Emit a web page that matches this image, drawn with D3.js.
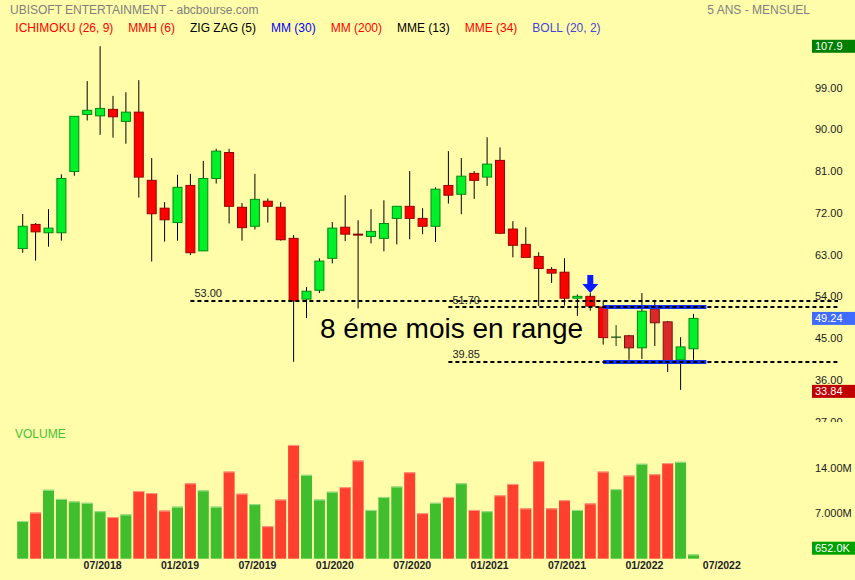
<!DOCTYPE html>
<html>
<head>
<meta charset="utf-8">
<script src="https://cdn.jsdelivr.net/npm/d3@7"></script>
<style>
  html, body { margin: 0; padding: 0; background: #fffdaa; }
  svg { display: block; font-family: "Liberation Sans", Arial, sans-serif; }
</style>
</head>
<body>
<svg id="chart" width="855" height="580"></svg>
<script>
// ---------------- DATA ----------------
const months = ["2018-01","2018-02","2018-03","2018-04","2018-05","2018-06","2018-07","2018-08","2018-09","2018-10","2018-11","2018-12",
  "2019-01","2019-02","2019-03","2019-04","2019-05","2019-06","2019-07","2019-08","2019-09","2019-10","2019-11","2019-12",
  "2020-01","2020-02","2020-03","2020-04","2020-05","2020-06","2020-07","2020-08","2020-09","2020-10","2020-11","2020-12",
  "2021-01","2021-02","2021-03","2021-04","2021-05","2021-06","2021-07","2021-08","2021-09","2021-10","2021-11","2021-12",
  "2022-01","2022-02","2022-03","2022-04","2022-05"];
const axisExtraMonths = ["2022-06","2022-07"];
const openV  = [64.3,69.5,67.7,67.7,80.9,93.2,92.9,94.3,91.7,93.7,79.0,73.0,69.9,77.9,63.8,79.4,85.0,73.2,69.1,74.5,73.2,66.5,53.4,55.3,62.2,68.9,67.5,66.9,66.5,70.8,73.4,70.8,69.1,77.9,76.0,80.5,79.7,83.3,68.5,65.2,62.6,59.8,59.2,53.6,54.0,51.7,45.1,45.5,42.9,51.3,48.5,40.3,42.7];
const highV  = [71.75,69.8,72.8,80.3,92.8,100.4,107.9,97.2,98.0,100.6,83.8,74.3,80.2,80.4,83.2,85.8,85.8,74.1,80.4,75.1,74.3,67.2,56.0,62.2,70.0,75.8,70.4,72.8,74.7,73.4,81.0,73.0,77.5,85.3,83.8,81.0,88.3,86.1,70.2,68.9,63.5,60.3,62.2,54.4,54.7,53.1,47.8,45.7,54.7,53.1,48.7,45.2,50.2];
const lowV   = [63.4,61.7,64.7,66.0,80.0,91.9,88.8,88.2,86.9,75.3,61.5,65.8,66.0,62.9,63.8,78.3,69.7,66.0,68.4,69.9,66.0,39.9,49.3,54.7,61.1,65.9,51.4,65.4,63.7,65.2,66.3,67.4,65.7,74.0,71.7,75.0,77.8,67.4,62.4,62.4,51.9,56.9,52.0,49.8,50.9,43.6,43.3,40.3,40.5,43.3,37.7,33.84,40.3];
const closeV = [69.1,67.9,68.7,79.4,92.8,94.1,94.5,92.7,93.7,79.7,71.8,70.5,77.5,63.4,79.4,85.3,73.4,68.8,74.9,73.4,66.2,53.0,55.1,61.6,68.7,67.4,67.3,68.0,69.7,73.4,70.8,69.1,77.1,75.8,79.9,79.0,82.5,67.6,65.0,62.4,60.0,59.0,53.6,54.0,51.9,45.1,45.2,42.9,50.8,48.3,40.1,43.1,49.24];
const volumeV = [5.8,7.1,10.6,9.2,8.8,8.6,7.3,6.4,6.8,10.4,10.1,7.4,8.0,11.6,10.5,8.0,13.4,10.0,8.4,5.0,9.1,17.5,12.9,9.1,10.3,11.0,15.1,7.5,9.5,11.1,13.3,7.0,8.6,9.5,11.6,7.5,7.3,9.75,11.5,7.75,15.0,7.75,9.0,7.5,8.5,13.4,10.7,12.8,14.6,13.0,14.7,14.9,0.652].map(v => v * 1e6);

const xTickMonths = ["2018-07","2019-01","2019-07","2020-01","2020-07","2021-01","2021-07","2022-01","2022-07"];
const priceTicks = [27,36,45,54,63,72,81,90,99];
const volumeTicks = [7e6,14e6];

const titleText = "UBISOFT ENTERTAINMENT - abcbourse.com";
const periodText = "5 ANS - MENSUEL";
const legendLabels = ["ICHIMOKU (26, 9)","MMH (6)","ZIG ZAG (5)","MM (30)","MM (200)","MME (13)","MME (34)","BOLL (20, 2)"];
const legendColors = ["#ff0000","#ff0000","#000000","#0000ff","#ff0000","#000000","#ff0000","#4545d8"];

const levelValues = [53.00, 51.70, 39.85];
const levelStartMonth = ["2019-02","2020-10","2020-10"];
const rangeStartMonth = "2021-10";
const rangeMonths = 8;
const signalMonth = "2021-09";
const annotationText = "8 éme mois en range";

// ---------------- LAYOUT ----------------
const svg = d3.select("#chart");
const W = 855, H = 580;
const BG = "#fffdaa";
const plotRight = 838;

svg.append("rect").attr("width", W).attr("height", H).attr("fill", BG);

const x = d3.scaleBand().domain(months.concat(axisExtraMonths)).range([16.25, 16.25 + 55 * 12.9]).padding(0);
const xc = m => x(m) + x.bandwidth() / 2;
const y = d3.scaleLinear().domain([27, 108]).range([421.6, 45.8]);
const yv = d3.scaleLinear().domain([0, 21e6]).range([558.7, 422.2]);

const data = months.map((m, i) => ({m, i, o: openV[i], h: highV[i], l: lowV[i], c: closeV[i], v: volumeV[i]}));
const rangeStartIdx = months.indexOf(rangeStartMonth);

// header
svg.append("text").attr("x", 10).attr("y", 13.5).attr("font-size", 12).attr("fill", "#808080").text(titleText);
svg.append("text").attr("x", 810).attr("y", 13.5).attr("font-size", 12).attr("fill", "#808080").attr("text-anchor", "end").text(periodText);

let lx = 15.3;
legendLabels.forEach((t, i) => {
  const el = svg.append("text").attr("x", lx).attr("y", 32).attr("font-size", 12).attr("fill", legendColors[i]).text(t);
  lx += el.node().getComputedTextLength() + 15;
});

// ---------------- VOLUME ----------------
svg.append("text").attr("x", 15).attr("y", 438).attr("font-size", 12).attr("fill", "#44c033").text("VOLUME");

const volG = svg.append("g");
data.forEach(d => {
  const up = d.c >= d.o;
  const cx = xc(d.m);
  volG.append("rect")
    .attr("x", cx - 5.5).attr("width", 11)
    .attr("y", yv(d.v)).attr("height", yv(0) - yv(d.v))
    .attr("fill", up ? "#41be2d" : "#ff402e");
  volG.append("rect")
    .attr("x", cx - 5.5).attr("width", 11)
    .attr("y", yv(d.v)).attr("height", 1)
    .attr("fill", up ? "#9ee08a" : "#ff9c80");
});

// ---------------- CANDLES ----------------
const cG = svg.append("g");
data.forEach(d => {
  const cx = xc(d.m);
  const up = d.c >= d.o;
  const inRange = d.i >= rangeStartIdx;
  const doji = Math.abs(d.c - d.o) < 0.3;
  cG.append("line")
    .attr("x1", cx).attr("x2", cx)
    .attr("y1", y(d.h)).attr("y2", y(d.l))
    .attr("stroke", doji && up ? "#0b3a14" : "#000").attr("stroke-width", 1);
  if (doji) {
    cG.append("line")
      .attr("x1", cx - 5).attr("x2", cx + 5)
      .attr("y1", y(d.c)).attr("y2", y(d.c))
      .attr("stroke", up ? "#0b3a14" : "#8b0000").attr("stroke-width", up ? 1.2 : 2);
    return;
  }
  const top = y(Math.max(d.o, d.c)), bot = y(Math.min(d.o, d.c));
  let fill, stroke;
  if (up) { fill = "#00f02a"; stroke = "#008a10"; }
  else if (inRange && d.i > rangeStartIdx) { fill = "#d92a2a"; stroke = "#7a1414"; }
  else { fill = "#ff0000"; stroke = "#9a0000"; }
  cG.append("rect")
    .attr("x", cx - 4.5).attr("width", 9)
    .attr("y", top).attr("height", Math.max(1, bot - top))
    .attr("fill", fill).attr("stroke", stroke).attr("stroke-width", 1);
  if (!up && d.i === rangeStartIdx) {
    cG.append("rect")
      .attr("x", cx).attr("width", 4.5)
      .attr("y", top + 0.5).attr("height", Math.max(1, bot - top - 1))
      .attr("fill", "#d92a2a");
  }
});

// ---------------- RANGE & LEVELS ----------------
const rx0 = xc(rangeStartMonth);
const rx1 = rx0 + rangeMonths * x.step();
[levelValues[1], levelValues[2]].forEach(v => {
  svg.append("line").attr("x1", rx0).attr("x2", rx1).attr("y1", y(v)).attr("y2", y(v))
    .attr("stroke", "#1030ff").attr("stroke-width", 4);
});
levelValues.forEach((v, i) => {
  const sx = xc(levelStartMonth[i]);
  svg.append("line").attr("x1", sx).attr("x2", plotRight).attr("y1", y(v)).attr("y2", y(v))
    .attr("stroke", "#000").attr("stroke-width", 2).attr("stroke-dasharray", "4,3");
  svg.append("text").attr("x", sx + 4).attr("y", y(v) - 3.5).attr("font-size", 11).attr("fill", "#222")
    .text(d3.format(".2f")(v));
});

// signal arrow
{
  const ax = xc(signalMonth);
  const si = months.indexOf(signalMonth);
  const tip = y(highV[si]);
  svg.append("path")
    .attr("d", `M${ax - 3},${tip - 18} L${ax + 3},${tip - 18} L${ax + 3},${tip - 9} L${ax + 8},${tip - 9} L${ax},${tip} L${ax - 8},${tip - 9} L${ax - 3},${tip - 9} Z`)
    .attr("fill", "#0a1cff");
}

svg.append("text").attr("x", 320).attr("y", 338).attr("font-size", 28).attr("fill", "#000").text(annotationText);

// ---------------- AXES ----------------
svg.append("defs").append("clipPath").attr("id", "priceClip")
  .append("rect").attr("x", 780).attr("y", 0).attr("width", 75).attr("height", 422);

const pAxis = svg.append("g").attr("clip-path", "url(#priceClip)")
  .append("g").attr("transform", "translate(813,0)")
  .call(d3.axisRight(y).tickValues(priceTicks).tickFormat(d3.format(".2f")).tickSize(0).tickPadding(2));
pAxis.select(".domain").remove();
pAxis.selectAll("text").attr("font-size", 11).attr("fill", "#1a1a1a").attr("font-family", null);

const vAxis = svg.append("g").attr("transform", "translate(813,0)")
  .call(d3.axisRight(yv).tickValues(volumeTicks).tickFormat(d => d3.format(".4s")(d)).tickSize(0).tickPadding(2));
vAxis.select(".domain").remove();
vAxis.selectAll("text").attr("font-size", 11).attr("fill", "#1a1a1a").attr("font-family", null);

const xAxis = svg.append("g").attr("transform", "translate(2.5,562)")
  .call(d3.axisBottom(x).tickValues(xTickMonths).tickFormat(m => m.slice(5) + "/" + m.slice(0, 4)).tickSize(0).tickPadding(0));
xAxis.select(".domain").remove();
xAxis.selectAll("text").attr("font-size", 10.5).attr("font-weight", "bold").attr("fill", "#222").attr("font-family", null);

// value tags
function tag(yPos, text, color) {
  svg.append("rect").attr("x", 812).attr("y", yPos - 6.5).attr("width", 43).attr("height", 13).attr("fill", color);
  svg.append("text").attr("x", 815).attr("y", yPos).attr("dy", "0.35em").attr("font-size", 11).attr("fill", "#fff").text(text);
}
const maxHigh = d3.max(highV), minLow = d3.min(lowV), lastClose = closeV[closeV.length - 1], lastVol = volumeV[volumeV.length - 1];
tag(y(maxHigh), d3.format(".1f")(maxHigh), "#007f00");
tag(y(lastClose), d3.format(".2f")(lastClose), "#3f6cff");
tag(y(minLow) + 1.5, d3.format(".2f")(minLow), "#c00000");
tag(Math.min(yv(lastVol), yv(0) - 10.5), d3.format(".4s")(lastVol).toUpperCase(), "#00a000");
</script>
</body>
</html>
